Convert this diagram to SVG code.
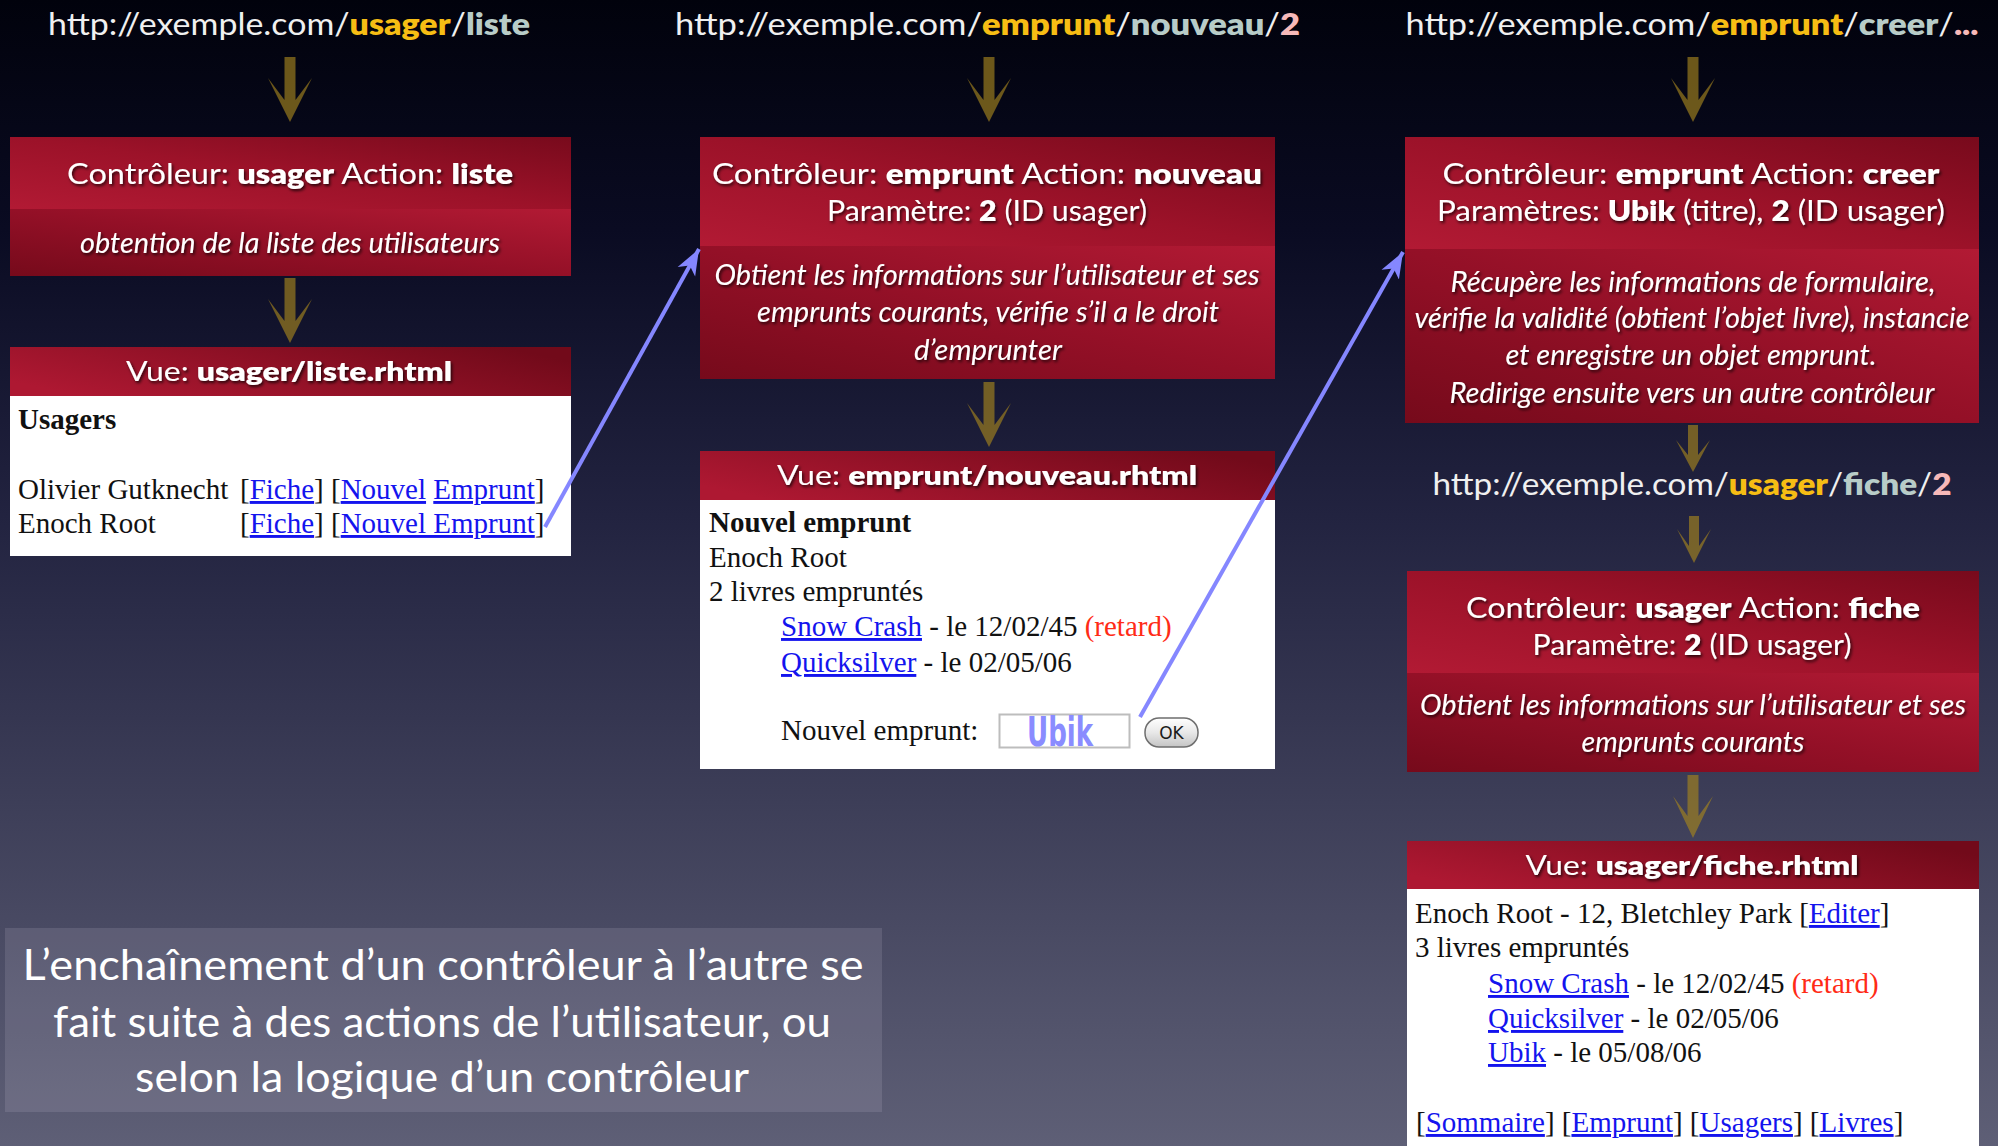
<svg xmlns="http://www.w3.org/2000/svg" width="1998" height="1146" viewBox="0 0 1998 1146">
<defs>
  <linearGradient id="bg" x1="0" y1="0" x2="0" y2="1">
    <stop offset="0" stop-color="#01020c"/>
    <stop offset="0.2" stop-color="#0a0b22"/>
    <stop offset="0.45" stop-color="#222340"/>
    <stop offset="0.7" stop-color="#3d3e58"/>
    <stop offset="1" stop-color="#5e5f76"/>
  </linearGradient>
  <linearGradient id="redA" x1="0" y1="1" x2="1" y2="0">
    <stop offset="0" stop-color="#b21a34"/>
    <stop offset="0.5" stop-color="#9c1229"/>
    <stop offset="1" stop-color="#780a1c"/>
  </linearGradient>
  <linearGradient id="redB" x1="0" y1="1" x2="1" y2="0">
    <stop offset="0" stop-color="#760a1b"/>
    <stop offset="0.5" stop-color="#941027"/>
    <stop offset="1" stop-color="#b21a34"/>
  </linearGradient>
  <linearGradient id="redH" x1="0" y1="0.7" x2="1" y2="0.3">
    <stop offset="0" stop-color="#ae1832"/>
    <stop offset="1" stop-color="#720a1a"/>
  </linearGradient>
  <linearGradient id="okg" x1="0" y1="0" x2="0" y2="1">
    <stop offset="0" stop-color="#ffffff"/>
    <stop offset="0.5" stop-color="#e8e8e8"/>
    <stop offset="1" stop-color="#c4c4c4"/>
  </linearGradient>
  <filter id="sh" x="-10%" y="-30%" width="120%" height="160%">
    <feDropShadow dx="1.5" dy="2" stdDeviation="1.6" flood-color="#000" flood-opacity="0.75"/>
  </filter>
  <marker id="bh" markerUnits="userSpaceOnUse" viewBox="0 0 28 22" markerWidth="28" markerHeight="22" refX="26" refY="11" orient="auto">
    <path d="M0,1 L26,11 L0,21 L7,11 Z" fill="#8587ff"/>
  </marker>
</defs>
<style>
  .url{font-family:Lato,"Open Sans",sans-serif;font-size:30px;fill:#f0f0f0;text-anchor:middle}
  .ctl{fill:#f6bd14;font-weight:800}
  .act{fill:#b8ccc8;font-weight:800}
  .prm{fill:#f7b9b9;font-weight:800}
  .t{font-family:Lato,"Open Sans",sans-serif;font-size:29px;fill:#ffffff;text-anchor:middle;filter:url(#sh)}
  .b{font-weight:800}
  .hb{font-weight:bold}
  .it{font-family:Lato,"Open Sans",sans-serif;font-style:italic;font-weight:400;font-size:28px;fill:#ffffff;text-anchor:middle;filter:url(#sh)}
  .vh{font-family:Lato,"Open Sans",sans-serif;font-size:26px;fill:#ffffff;text-anchor:middle;filter:url(#sh)}
  .html{font-family:"Liberation Serif","Times New Roman",serif;font-size:29px;fill:#111111}
  .lnk{fill:#1414ee;text-decoration:underline}
  .red{fill:#ff2b16}
  .ga{fill:#a3821f;fill-opacity:0.66}
  .conn{stroke:#8587ff;stroke-width:4;fill:none;marker-end:url(#bh)}
  .cap{font-family:Lato,"Open Sans",sans-serif;font-size:43px;fill:#ffffff;text-anchor:middle}
</style>

<rect x="0" y="0" width="1998" height="1146" fill="url(#bg)"/>

<!-- URLs -->
<g id="url1"><text class="url" x="289" y="35" textLength="482" lengthAdjust="spacingAndGlyphs">http://exemple.com/<tspan class="ctl">usager</tspan>/<tspan class="act">liste</tspan></text></g>
<g id="url2"><text class="url" x="987.5" y="35" textLength="625" lengthAdjust="spacingAndGlyphs">http://exemple.com/<tspan class="ctl">emprunt</tspan>/<tspan class="act">nouveau</tspan>/<tspan class="prm">2</tspan></text></g>
<g id="url3"><text class="url" x="1692" y="35" textLength="573" lengthAdjust="spacingAndGlyphs">http://exemple.com/<tspan class="ctl">emprunt</tspan>/<tspan class="act">creer</tspan>/<tspan class="prm">...</tspan></text></g>
<g id="url4"><text class="url" x="1692" y="495" textLength="519" lengthAdjust="spacingAndGlyphs">http://exemple.com/<tspan class="ctl">usager</tspan>/<tspan class="act">fiche</tspan>/<tspan class="prm">2</tspan></text></g>

<!-- Column 1 -->
<g id="ctrl-usager-liste">
  <rect x="10" y="137" width="561" height="72" fill="url(#redA)"/>
  <rect x="10" y="209" width="561" height="67" fill="url(#redB)"/>
  <text class="t" x="290" y="184" textLength="446" lengthAdjust="spacingAndGlyphs">Contrôleur: <tspan class="b">usager</tspan> Action: <tspan class="b">liste</tspan></text>
  <text class="it" x="290" y="253" textLength="420" lengthAdjust="spacingAndGlyphs">obtention de la liste des utilisateurs</text>
</g>

<g id="vue-usager-liste">
  <rect x="10" y="347" width="561" height="49" fill="url(#redH)"/>
  <rect x="10" y="396" width="561" height="160" fill="#ffffff"/>
  <text class="vh" x="289" y="381" textLength="326" lengthAdjust="spacingAndGlyphs">Vue: <tspan class="b">usager/liste.rhtml</tspan></text>
  <text class="html hb" x="18" y="429">Usagers</text>
  <text class="html" x="18" y="499">Olivier Gutknecht</text>
  <text class="html" x="240" y="499">[<tspan class="lnk">Fiche</tspan>]</text>
  <text class="html" x="331" y="499">[<tspan class="lnk">Nouvel</tspan> <tspan class="lnk">Emprunt</tspan>]</text>
  <text class="html" x="18" y="533">Enoch Root</text>
  <text class="html" x="240" y="533">[<tspan class="lnk">Fiche</tspan>]</text>
  <text class="html" x="331" y="533">[<tspan class="lnk">Nouvel Emprunt</tspan>]</text>
</g>

<!-- Column 2 -->
<g id="ctrl-emprunt-nouveau">
  <rect x="700" y="137" width="575" height="109" fill="url(#redA)"/>
  <rect x="700" y="246" width="575" height="133" fill="url(#redB)"/>
  <text class="t" x="987" y="184" textLength="550" lengthAdjust="spacingAndGlyphs">Contrôleur: <tspan class="b">emprunt</tspan> Action: <tspan class="b">nouveau</tspan></text>
  <text class="t" x="987" y="221" textLength="320" lengthAdjust="spacingAndGlyphs">Paramètre: <tspan class="b">2</tspan> (ID usager)</text>
  <text class="it" x="987" y="285" textLength="545" lengthAdjust="spacingAndGlyphs">Obtient les informations sur l’utilisateur et ses</text>
  <text class="it" x="988" y="322" textLength="462" lengthAdjust="spacingAndGlyphs">emprunts courants, vérifie s’il a le droit</text>
  <text class="it" x="988" y="360" textLength="148" lengthAdjust="spacingAndGlyphs">d’emprunter</text>
</g>

<g id="vue-emprunt-nouveau">
  <rect x="700" y="451" width="575" height="49" fill="url(#redH)"/>
  <rect x="700" y="500" width="575" height="269" fill="#ffffff"/>
  <text class="vh" x="987" y="485" textLength="420" lengthAdjust="spacingAndGlyphs">Vue: <tspan class="b">emprunt/nouveau.rhtml</tspan></text>
  <text class="html hb" x="709" y="532">Nouvel emprunt</text>
  <text class="html" x="709" y="567">Enoch Root</text>
  <text class="html" x="709" y="601">2 livres empruntés</text>
  <text class="html" x="781" y="636"><tspan class="lnk">Snow Crash</tspan> - le 12/02/45 <tspan class="red">(retard)</tspan></text>
  <text class="html" x="781" y="672"><tspan class="lnk">Quicksilver</tspan> - le 02/05/06</text>
  <text class="html" x="781" y="740">Nouvel emprunt:</text>
  <rect x="999.5" y="714.5" width="130" height="33" fill="#ffffff" stroke="#bdbdbd" stroke-width="2"/>
  <text x="1027" y="746" textLength="66" lengthAdjust="spacingAndGlyphs" style="font-family:'DejaVu Sans Condensed','DejaVu Sans',sans-serif;font-weight:bold;font-size:40px;fill:#8a8cff">Ubik</text>
  <rect x="1145" y="718" width="53" height="29" rx="14" fill="url(#okg)" stroke="#6e6e6e" stroke-width="1.5"/>
  <text x="1171.5" y="739" text-anchor="middle" style="font-family:'DejaVu Sans',sans-serif;font-size:17px;fill:#1a1a1a">OK</text>
</g>

<!-- Column 3 -->
<g id="ctrl-emprunt-creer">
  <rect x="1405" y="137" width="574" height="112" fill="url(#redA)"/>
  <rect x="1405" y="249" width="574" height="174" fill="url(#redB)"/>
  <text class="t" x="1691" y="184" textLength="497" lengthAdjust="spacingAndGlyphs">Contrôleur: <tspan class="b">emprunt</tspan> Action: <tspan class="b">creer</tspan></text>
  <text class="t" x="1691" y="221" textLength="508" lengthAdjust="spacingAndGlyphs">Paramètres: <tspan class="b">Ubik</tspan> (titre), <tspan class="b">2</tspan> (ID usager)</text>
  <text class="it" x="1693" y="292" textLength="485" lengthAdjust="spacingAndGlyphs">Récupère les informations de formulaire,</text>
  <text class="it" x="1692" y="328" textLength="555" lengthAdjust="spacingAndGlyphs">vérifie la validité (obtient l’objet livre), instancie</text>
  <text class="it" x="1691" y="365" textLength="371" lengthAdjust="spacingAndGlyphs">et enregistre un objet emprunt.</text>
  <text class="it" x="1692" y="403" textLength="485" lengthAdjust="spacingAndGlyphs">Redirige ensuite vers un autre contrôleur</text>
</g>

<g id="ctrl-usager-fiche">
  <rect x="1407" y="571" width="572" height="102" fill="url(#redA)"/>
  <rect x="1407" y="673" width="572" height="99" fill="url(#redB)"/>
  <text class="t" x="1693" y="618" textLength="454" lengthAdjust="spacingAndGlyphs">Contrôleur: <tspan class="b">usager</tspan> Action: <tspan class="b">fiche</tspan></text>
  <text class="t" x="1692" y="655" textLength="319" lengthAdjust="spacingAndGlyphs">Paramètre: <tspan class="b">2</tspan> (ID usager)</text>
  <text class="it" x="1693" y="715" textLength="546" lengthAdjust="spacingAndGlyphs">Obtient les informations sur l’utilisateur et ses</text>
  <text class="it" x="1693" y="752" textLength="223" lengthAdjust="spacingAndGlyphs">emprunts courants</text>
</g>

<g id="vue-usager-fiche">
  <rect x="1407" y="841" width="572" height="48" fill="url(#redH)"/>
  <rect x="1407" y="889" width="572" height="257" fill="#ffffff"/>
  <text class="vh" x="1692" y="875" textLength="333" lengthAdjust="spacingAndGlyphs">Vue: <tspan class="b">usager/fiche.rhtml</tspan></text>
  <text class="html" x="1415" y="923">Enoch Root - 12, Bletchley Park [<tspan class="lnk">Editer</tspan>]</text>
  <text class="html" x="1415" y="957">3 livres empruntés</text>
  <text class="html" x="1488" y="993"><tspan class="lnk">Snow Crash</tspan> - le 12/02/45 <tspan class="red">(retard)</tspan></text>
  <text class="html" x="1488" y="1028"><tspan class="lnk">Quicksilver</tspan> - le 02/05/06</text>
  <text class="html" x="1488" y="1062"><tspan class="lnk">Ubik</tspan> - le 05/08/06</text>
  <text class="html" x="1416" y="1132">[<tspan class="lnk">Sommaire</tspan>] [<tspan class="lnk">Emprunt</tspan>] [<tspan class="lnk">Usagers</tspan>] [<tspan class="lnk">Livres</tspan>]</text>
</g>

<!-- Caption -->
<g id="caption">
  <rect x="5" y="928" width="877" height="184" fill="#f0e8f4" fill-opacity="0.12"/>
  <text class="cap" x="443" y="980" textLength="841" lengthAdjust="spacingAndGlyphs">L’enchaînement d’un contrôleur à l’autre se</text>
  <text class="cap" x="442" y="1037" textLength="778" lengthAdjust="spacingAndGlyphs">fait suite à des actions de l’utilisateur, ou</text>
  <text class="cap" x="442" y="1092" textLength="614" lengthAdjust="spacingAndGlyphs">selon la logique d’un contrôleur</text>
</g>

<!-- Connectors (drawn on top) -->
<g id="connectors">
  <path class="ga" d="M284.5,57 H295.5 V100 L312,78 L290,122 L268,78 L284.5,100 Z"/>
  <path class="ga" d="M284.5,278 H295.5 V321 L312,299 L290,343 L268,299 L284.5,321 Z"/>
  <path class="ga" d="M983.5,57 H994.5 V100 L1011,78 L989,122 L967,78 L983.5,100 Z"/>
  <path class="ga" d="M983.5,382 H994.5 V425 L1011,403 L989,447 L967,403 L983.5,425 Z"/>
  <path class="ga" d="M1687.5,57 H1698.5 V100 L1715,78 L1693,122 L1671,78 L1687.5,100 Z"/>
  <path class="ga" d="M1688,425 H1698 V455 L1710,440 L1693,472 L1676,440 L1688,455 Z"/>
  <path class="ga" d="M1689,516 H1699 V546 L1711,529 L1694,563 L1677,529 L1689,546 Z"/>
  <path class="ga" d="M1687.5,775 H1698.5 V816 L1713,796 L1693,838 L1673,796 L1687.5,816 Z"/>
  <line class="conn" x1="545" y1="527" x2="699" y2="249"/>
  <line class="conn" x1="1140" y1="717" x2="1403" y2="252"/>
</g>
</svg>
